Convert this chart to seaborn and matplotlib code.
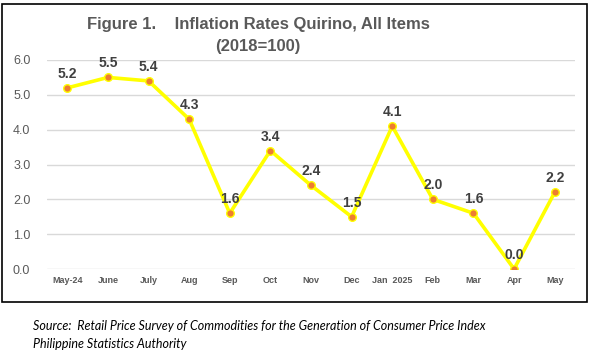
import seaborn as sns
import matplotlib.pyplot as plt
import pandas as pd
from matplotlib.patches import Rectangle

months = ['May-24', 'June', 'July', 'Aug', 'Sep', 'Oct', 'Nov', 'Dec',
          'Jan  2025', 'Feb', 'Mar', 'Apr', 'May']
rates = [5.2, 5.5, 5.4, 4.3, 1.6, 3.4, 2.4, 1.5, 4.1, 2.0, 1.6, 0.0, 2.2]
yticks = [0.0, 1.0, 2.0, 3.0, 4.0, 5.0, 6.0]

df = pd.DataFrame({'Mes': months, 'Tasa': rates})

sns.set_style('white')
plt.rcParams['font.family'] = ['Liberation Sans', 'DejaVu Sans']

fig = plt.figure(figsize=(5.92, 3.55), dpi=100)
ax = fig.add_axes([47 / 592, 86 / 355, 528 / 592, 209 / 355])

# línea amarilla con marcadores naranjas
sns.lineplot(x='Mes', y='Tasa', data=df, ax=ax, sort=False, color='#FFFF00',
             linewidth=2.6, marker='o', markersize=5.5,
             markerfacecolor='#ED7D31', markeredgecolor='#FFFF00',
             markeredgewidth=1.0, zorder=3)

# etiquetas de datos
for i, v in enumerate(rates):
    ax.annotate(f'{v:.1f}', (i, v), xytext=(0, 5), textcoords='offset points',
                ha='center', va='bottom', fontsize=10, fontweight='bold',
                color='#404040', zorder=4)

ax.set_xlim(-0.5, len(months) - 0.5)
ax.set_ylim(0, 6)
ax.set_yticks(yticks)
ax.set_yticklabels([f'{t:.1f}' for t in yticks], fontsize=9, color='#595959')
ax.set_xticks(range(len(months)))
ax.set_xticklabels(months, fontsize=6.5, fontweight='bold', color='#595959')
ax.tick_params(axis='y', length=0, pad=12)
ax.tick_params(axis='x', length=0, pad=5)
ax.grid(axis='y', color='#D9D9D9', linewidth=1)
ax.set_axisbelow(True)
for s in ax.spines.values():
    s.set_visible(False)
ax.set_xlabel('')
ax.set_ylabel('')

# título
fig.text(258 / 592, 1 - 25 / 355, 'Figure 1.    Inflation Rates Quirino, All Items',
         ha='center', va='center', fontsize=12, fontweight='bold', color='#595959')
fig.text(258 / 592, 1 - 47 / 355, '(2018=100)',
         ha='center', va='center', fontsize=12, fontweight='bold', color='#595959')

# marco negro
fig.patches.append(Rectangle((1.5 / 592, 1 - 302 / 355), 585.5 / 592, 298 / 355,
                             transform=fig.transFigure, fill=False,
                             edgecolor='black', linewidth=1.2))

# fuente
fig.text(33 / 592, 1 - 326 / 355,
         'Source:  Retail Price Survey of Commodities for the Generation of Consumer Price Index',
         ha='left', va='center', fontsize=9, style='italic', color='black',
         family=['Lato', 'DejaVu Sans'])
fig.text(33 / 592, 1 - 344 / 355, 'Philippine Statistics Authority',
         ha='left', va='center', fontsize=9, style='italic', color='black',
         family=['Lato', 'DejaVu Sans'])

fig.savefig('out.png', dpi=100)
